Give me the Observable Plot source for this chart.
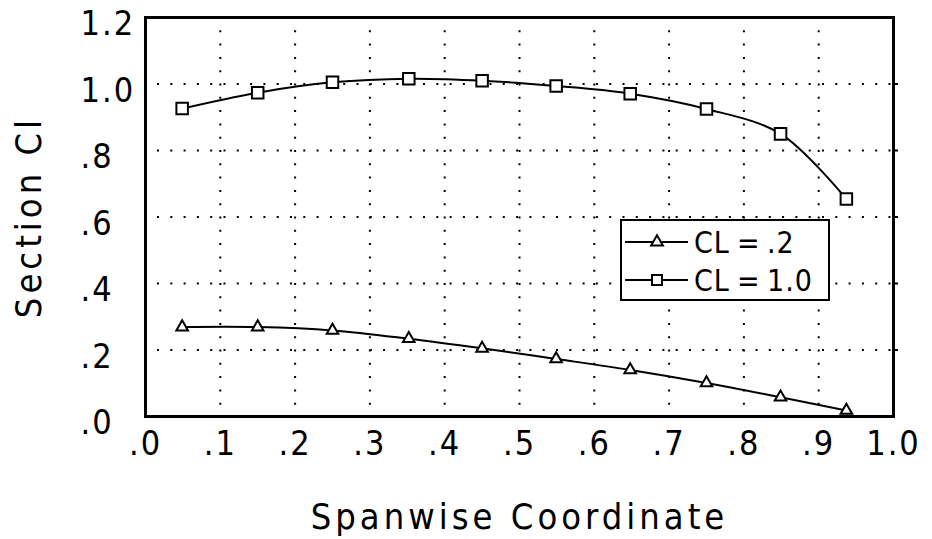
<!DOCTYPE html>
<html>
<head>
<meta charset="utf-8">
<script src="https://cdn.jsdelivr.net/npm/d3@7"></script>
<script src="https://cdn.jsdelivr.net/npm/@observablehq/plot@0.6"></script>
<style>
  html, body { margin: 0; padding: 0; background: #fff; }
  #wrap { position: relative; width: 932px; height: 539px; overflow: hidden; }
  #legend { position: absolute; left: 620px; top: 219px; width: 206px; height: 78px;
            border: 2.5px solid #000; background: #fff; }
  #legend svg { display: block; }
  svg text { letter-spacing: 2px; }
  g[aria-label="x-axis label"] text, g[aria-label="y-axis label"] text { letter-spacing: 4px; font-size: 36px; }
  #legend text { letter-spacing: 1px; }
</style>
</head>
<body>
<div id="wrap"></div>
<script>
// ---- data ----
const spanX = [0.049, 0.150, 0.250, 0.352, 0.450, 0.549, 0.648, 0.750, 0.849, 0.937];
const clLow = [0.269, 0.269, 0.259, 0.234, 0.205, 0.173, 0.140, 0.101, 0.058, 0.018];
const clHigh = [0.926, 0.974, 1.005, 1.016, 1.010, 0.994, 0.971, 0.925, 0.850, 0.654];
const seriesLabel = "CL";
const seriesValues = [".2", "1.0"];
const seriesSymbols = ["triangle", "square"];
const xTicks = [0, 0.1, 0.2, 0.3, 0.4, 0.5, 0.6, 0.7, 0.8, 0.9, 1.0];
const xTickLabels = [".0", ".1", ".2", ".3", ".4", ".5", ".6", ".7", ".8", ".9", "1.0"];
const yTicks = [0, 0.2, 0.4, 0.6, 0.8, 1.0, 1.2];
const yTickLabels = [".0", ".2", ".4", ".6", ".8", "1.0", "1.2"];
const xLabel = "Spanwise Coordinate";
const yLabel = "Section Cl";

const FONT = '"Liberation Sans Narrow", "DejaVu Sans Condensed", "Liberation Sans", Arial, sans-serif';

const rows = [];
[clLow, clHigh].forEach((vals, s) => {
  vals.forEach((v, i) => rows.push({x: spanX[i], y: v, series: seriesValues[s], symbol: seriesSymbols[s]}));
});

const chart = Plot.plot({
  width: 932,
  height: 539,
  marginLeft: 145,
  marginRight: 39,
  marginTop: 17,
  marginBottom: 123,
  style: {fontFamily: FONT, fontSize: "34px", color: "#000", background: "#fff"},
  x: {domain: [0, 1]},
  y: {domain: [0, 1.2]},
  marks: [
    Plot.gridX(xTicks.slice(1, -1), {stroke: "#000", strokeOpacity: 1, strokeWidth: 2, strokeDasharray: "2,11.3"}),
    Plot.gridY(yTicks.slice(1, -1), {stroke: "#000", strokeOpacity: 1, strokeWidth: 2, strokeDasharray: "2,11.3", strokeDashoffset: -12}),
    Plot.axisX({ticks: xTicks, tickFormat: (d, i) => xTickLabels[i], tickSize: 0, tickPadding: 14,
      fontSize: 34, label: xLabel, labelAnchor: "center", labelArrow: "none", labelOffset: 112}),
    Plot.axisY({ticks: yTicks, tickFormat: (d, i) => yTickLabels[i], tickSize: 0, tickPadding: 65,
      textAnchor: "start", dy: 7, fontSize: 34, label: yLabel, labelAnchor: "center", labelArrow: "none", labelOffset: 130}),
    Plot.axisY({anchor: "right", ticks: yTicks.slice(1, -1), tickSize: 4, tickFormat: () => "", label: null, strokeWidth: 2}),
    Plot.line(rows, {x: "x", y: "y", z: "series", stroke: "#000", strokeWidth: 2, curve: "catmull-rom"}),
    Plot.dot(rows.filter((d) => d.symbol === "triangle"), {x: "x", y: "y", symbol: "triangle", r: 4.3,
      stroke: "#000", strokeWidth: 2, fill: "#fff"}),
    Plot.dot(rows.filter((d) => d.symbol === "square"), {x: "x", y: "y", symbol: "square", r: 6.5,
      stroke: "#000", strokeWidth: 2, fill: "#fff"}),
    Plot.frame({stroke: "#000", strokeWidth: 3})
  ]
});
document.getElementById("wrap").appendChild(chart);

// ---- legend (inside plot area) ----
const legend = document.createElement("div");
legend.id = "legend";
const sym = d3.create("svg").attr("width", 206).attr("height", 78);
seriesValues.forEach((val, i) => {
  const y = 21 + i * 38;
  sym.append("line").attr("x1", 3).attr("x2", 66).attr("y1", y).attr("y2", y)
     .attr("stroke", "#000").attr("stroke-width", 2);
  sym.append("path")
     .attr("transform", `translate(35,${y})`)
     .attr("d", d3.symbol(seriesSymbols[i] === "square" ? d3.symbolSquare : d3.symbolTriangle, seriesSymbols[i] === "square" ? 100 : 60)())
     .attr("fill", "#fff").attr("stroke", "#000").attr("stroke-width", 2);
  const t = sym.append("text").attr("y", y + 11).attr("font-family", FONT).attr("font-size", 30);
  t.append("tspan").attr("x", 72).text(seriesLabel);
  t.append("tspan").attr("x", 115).text("=");
  t.append("tspan").attr("x", 145).text(val);
});
legend.appendChild(sym.node());
document.getElementById("wrap").appendChild(legend);
</script>
</body>
</html>
